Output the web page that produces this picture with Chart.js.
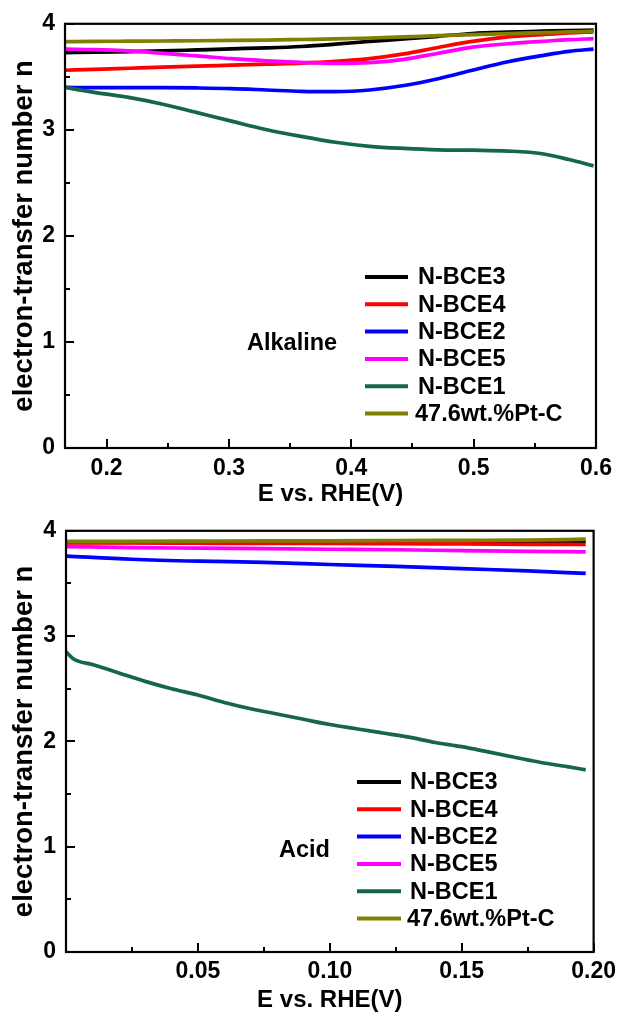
<!DOCTYPE html>
<html><head><meta charset="utf-8">
<script src="https://cdn.jsdelivr.net/npm/chart.js@4.4.1/dist/chart.umd.min.js"></script>
<style>
html,body{margin:0;padding:0;background:#fff;}
#wrap{position:relative;width:622px;height:1015px;overflow:hidden;}
.box{position:absolute;left:0;width:622px;}
canvas{display:block;}
</style></head><body>
<div id="wrap">
<div class="box" style="top:0;height:507px"><canvas id="c1" width="622" height="507"></canvas></div>
<div class="box" style="top:507px;height:508px"><canvas id="c2" width="622" height="508"></canvas></div>
</div>
<script>
// ---------- shared ----------
const SERIES_NAMES  = ['N-BCE3', 'N-BCE4', 'N-BCE2', 'N-BCE5', 'N-BCE1', '47.6wt.%Pt-C'];
const SERIES_COLORS = ['#000000', '#ff0000', '#0000ff', '#ff00ff', '#15654f', '#808000'];
const Y_TICKS  = [0, 1, 2, 3, 4];
const Y_LABELS = ['0', '1', '2', '3', '4'];
const Y_MINOR  = [0.5, 1.5, 2.5, 3.5];

// ---------- Alkaline (top) ----------
const ALK_X = [0.166, 0.19, 0.218, 0.246, 0.274, 0.302, 0.331, 0.359, 0.387, 0.415, 0.443, 0.471, 0.499, 0.528, 0.556, 0.578, 0.598];
const ALK_BCE3 = [3.728, 3.732, 3.738, 3.744, 3.754, 3.764, 3.773, 3.786, 3.808, 3.834, 3.857, 3.882, 3.908, 3.921, 3.930, 3.937, 3.940];
const ALK_BCE4 = [3.562, 3.571, 3.581, 3.591, 3.600, 3.610, 3.620, 3.629, 3.645, 3.671, 3.716, 3.777, 3.834, 3.876, 3.898, 3.914, 3.924];
const ALK_BCE2 = [3.400, 3.398, 3.398, 3.398, 3.395, 3.389, 3.376, 3.363, 3.360, 3.376, 3.418, 3.482, 3.562, 3.642, 3.700, 3.740, 3.762];
const ALK_BCE5 = [3.761, 3.757, 3.744, 3.722, 3.697, 3.671, 3.651, 3.636, 3.626, 3.633, 3.664, 3.722, 3.780, 3.812, 3.834, 3.850, 3.860];
const ALK_BCE1 = [3.400, 3.354, 3.306, 3.242, 3.162, 3.082, 3.001, 2.938, 2.883, 2.845, 2.825, 2.812, 2.808, 2.800, 2.775, 2.720, 2.660];
const ALK_PTC  = [3.832, 3.834, 3.836, 3.838, 3.840, 3.843, 3.847, 3.852, 3.857, 3.866, 3.876, 3.888, 3.898, 3.908, 3.917, 3.923, 3.930];
const ALK_X_TICKS  = [0.2, 0.3, 0.4, 0.5, 0.6];
const ALK_X_LABELS = ['0.2', '0.3', '0.4', '0.5', '0.6'];
const ALK_X_MINOR  = [0.25, 0.35, 0.45, 0.55];

// ---------- Acid (bottom) ----------
const ACID_X = [0, 0.025, 0.05, 0.075, 0.10, 0.125, 0.15, 0.175, 0.197];
const ACID_BCE3 = [3.890, 3.890, 3.890, 3.890, 3.892, 3.895, 3.895, 3.897, 3.900];
const ACID_BCE4 = [3.885, 3.885, 3.882, 3.880, 3.880, 3.877, 3.875, 3.872, 3.870];
const ACID_BCE2 = [3.760, 3.730, 3.712, 3.700, 3.680, 3.662, 3.640, 3.620, 3.595];
const ACID_BCE5 = [3.850, 3.840, 3.835, 3.830, 3.825, 3.820, 3.812, 3.805, 3.800];
const ACID_PTC  = [3.900, 3.900, 3.902, 3.905, 3.905, 3.908, 3.910, 3.912, 3.920];
const ACID_BCE1_X = [0, 0.003, 0.010, 0.020, 0.030, 0.040, 0.050, 0.060, 0.070, 0.080, 0.090, 0.100, 0.110, 0.120, 0.130, 0.140, 0.150, 0.160, 0.170, 0.180, 0.190, 0.197];
const ACID_BCE1   = [2.85, 2.78, 2.73, 2.65, 2.57, 2.50, 2.44, 2.37, 2.31, 2.26, 2.21, 2.16, 2.12, 2.08, 2.04, 1.99, 1.95, 1.90, 1.85, 1.80, 1.76, 1.73];
const ACID_X_TICKS  = [0.05, 0.10, 0.15, 0.20];
const ACID_X_LABELS = ['0.05', '0.10', '0.15', '0.20'];
const ACID_X_MINOR  = [0.025, 0.075, 0.125, 0.175];

const FONT = '"Liberation Sans", Arial, Helvetica, sans-serif';
const pts = (xs, ys) => xs.map((x, i) => ({x: x, y: ys[i]}));

const decor = {
  id: 'decor',
  afterDatasetsDraw(chart, args, o) {
    const {ctx, chartArea: a} = chart;
    const xs = chart.scales.x, ys = chart.scales.y;
    ctx.save();
    ctx.strokeStyle = '#000';
    ctx.lineWidth = 2;
    const seg = (x1, y1, x2, y2) => { ctx.beginPath(); ctx.moveTo(x1, y1); ctx.lineTo(x2, y2); ctx.stroke(); };
    o.xMajor.forEach(v => { const p = Math.round(xs.getPixelForValue(v)); seg(p, a.bottom, p, a.bottom - 9); });
    o.xMinor.forEach(v => { const p = Math.round(xs.getPixelForValue(v)); seg(p, a.bottom, p, a.bottom - 5); });
    o.yMajor.forEach(v => { const p = Math.round(ys.getPixelForValue(v)); seg(a.left, p, a.left + 9, p); });
    o.yMinor.forEach(v => { const p = Math.round(ys.getPixelForValue(v)); seg(a.left, p, a.left + 5, p); });
    ctx.lineWidth = 2.2;
    ctx.strokeRect(a.left, a.top, a.right - a.left, a.bottom - a.top);
    // legend
    ctx.font = 'bold 23.5px ' + FONT;
    ctx.textBaseline = 'middle';
    ctx.textAlign = 'left';
    ctx.fillStyle = '#000';
    SERIES_NAMES.forEach((n, i) => {
      const yy = o.legY + i * o.legStep;
      ctx.strokeStyle = SERIES_COLORS[i];
      ctx.lineWidth = 4;
      seg(o.legX1, yy, o.legX2, yy);
      ctx.fillText(n, o.legTx - (i === 5 ? 3 : 0), yy + 1);
    });
    ctx.fillText(o.label, o.labelX, o.labelY);
    ctx.restore();
  }
};

function makeChart(id, c) {
  const datasets = c.series.map((s, i) => ({
    label: SERIES_NAMES[i],
    data: s,
    borderColor: SERIES_COLORS[i],
    backgroundColor: SERIES_COLORS[i],
    order: [5, 4, 3, 2, 1, 0][i]
  }));
  return new Chart(document.getElementById(id), {
    type: 'line',
    data: {datasets},
    options: {
      responsive: false,
      animation: false,
      layout: {padding: c.padding},
      elements: {point: {radius: 0}, line: {borderWidth: 3.7, cubicInterpolationMode: 'monotone'}},
      plugins: {legend: {display: false}, tooltip: {enabled: false}, decor: c.decor},
      scales: {
        x: {
          type: 'linear', min: c.xMin, max: c.xMax,
          grid: {display: false, drawTicks: false}, border: {display: false},
          afterBuildTicks: s => { s.ticks = c.xTicks.map(v => ({value: v})); },
          afterFit: s => { s.height = c.xH; },
          ticks: {autoSkip: false, maxRotation: 0, padding: c.xPad, color: '#000',
                  font: {family: FONT, size: 23, weight: 'bold', lineHeight: 1.2},
                  callback: (v, i) => c.xLabels[i]},
          title: {display: true, text: 'E vs. RHE(V)', color: '#000',
                  font: {family: FONT, size: 24, weight: 'bold', lineHeight: 1},
                  padding: {top: 0, bottom: c.xTitlePad}}
        },
        y: {
          type: 'linear', min: 0, max: 4,
          grid: {display: false, drawTicks: false}, border: {display: false},
          afterBuildTicks: s => { s.ticks = Y_TICKS.map(v => ({value: v})); },
          afterFit: s => { s.width = c.yW; },
          ticks: {autoSkip: false, padding: 10, color: '#000',
                  font: {family: FONT, size: 23, weight: 'bold', lineHeight: 1.2},
                  callback: (v, i) => Y_LABELS[i]},
          title: {display: true, text: 'electron-transfer number n', color: '#000',
                  font: {family: FONT, size: 27.5, weight: 'bold', lineHeight: 1},
                  padding: {top: 11, bottom: 0}}
        }
      }
    },
    plugins: [decor]
  });
}

makeChart('c1', {
  series: [pts(ALK_X, ALK_BCE3), pts(ALK_X, ALK_BCE4), pts(ALK_X, ALK_BCE2), pts(ALK_X, ALK_BCE5), pts(ALK_X, ALK_BCE1), pts(ALK_X, ALK_PTC)],
  xMin: 0.166, xMax: 0.6, xTicks: ALK_X_TICKS, xLabels: ALK_X_LABELS,
  padding: {left: 0, right: 26, top: 18, bottom: 0},
  xH: 59, yW: 65, xPad: 7, xTitlePad: 1,
  decor: {xMajor: ALK_X_TICKS, xMinor: ALK_X_MINOR, yMajor: Y_TICKS, yMinor: Y_MINOR,
          legX1: 365, legX2: 408, legTx: 418, legY: 277, legStep: 27.3,
          label: 'Alkaline', labelX: 247, labelY: 344}
});

makeChart('c2', {
  series: [pts(ACID_X, ACID_BCE3), pts(ACID_X, ACID_BCE4), pts(ACID_X, ACID_BCE2), pts(ACID_X, ACID_BCE5), pts(ACID_BCE1_X, ACID_BCE1), pts(ACID_X, ACID_PTC)],
  xMin: 0, xMax: 0.2, xTicks: ACID_X_TICKS, xLabels: ACID_X_LABELS,
  padding: {left: 0, right: 28, top: 16, bottom: 0},
  xH: 63, yW: 66, xPad: 6, xTitlePad: 3,
  decor: {xMajor: ACID_X_TICKS, xMinor: ACID_X_MINOR, yMajor: Y_TICKS, yMinor: Y_MINOR,
          legX1: 357, legX2: 401, legTx: 410, legY: 275, legStep: 27.3,
          label: 'Acid', labelX: 279, labelY: 344}
});
</script>
</body></html>
